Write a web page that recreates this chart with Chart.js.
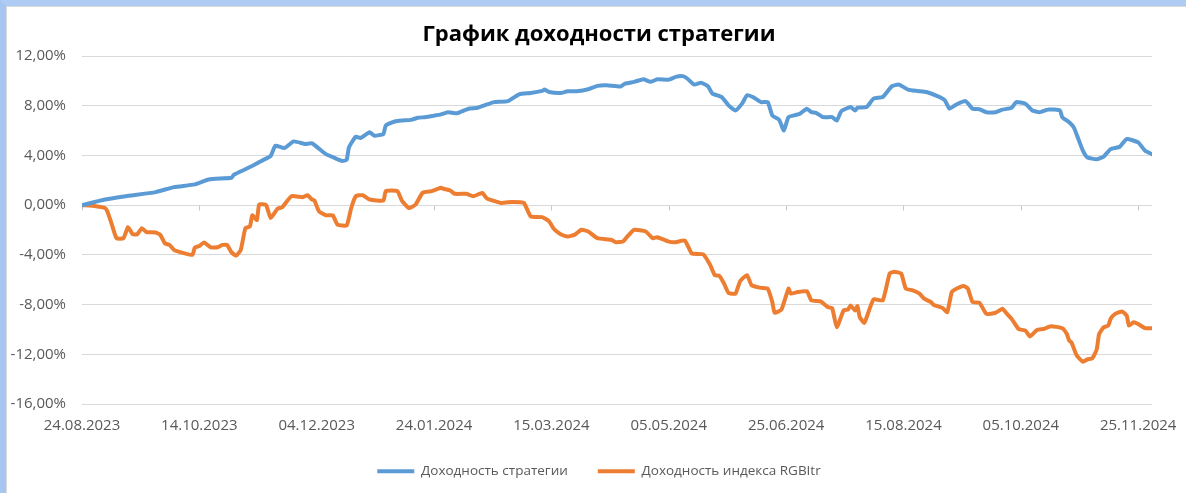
<!DOCTYPE html>
<html>
<head>
<meta charset="utf-8">
<script src="https://cdn.jsdelivr.net/npm/chart.js@4.4.0/dist/chart.umd.min.js"></script>
<style>
    html, body { margin: 0; padding: 0; background: #fff; overflow: hidden; }
    .frame {
        width: 1186px; height: 493px; box-sizing: border-box;
        border-top: 6px solid #aecbf3; border-left: 6px solid #a6c6f1;
    }
    .inner {
        width: 1180px; height: 487px; box-sizing: border-box; overflow: hidden;
        border-top: 1px solid #d9d9d9; border-left: 1px solid #d9d9d9;
    }
    canvas { display: block; }
</style>
</head>
<body>
<div class="frame"><div class="inner">
    <canvas id="yieldChart" width="1184" height="486"></canvas>
</div></div>
<script>
// days counted from 24.08.2023, values in %
var stratDays = [
    0, 10, 19, 32, 40, 49, 55, 65, 66, 71,
    75, 78, 82, 84, 88, 92, 97, 100, 106, 110,
    113, 115, 116, 119, 121, 125, 127, 131, 132, 136,
    139, 143, 146, 149, 153, 156, 159, 163, 168, 172,
    176, 179, 185, 190, 195, 200, 201, 203, 208, 211,
    215, 220, 224, 228, 234, 236, 240, 244, 247, 250,
    255, 258, 261, 263, 266, 269, 272, 274, 278, 281,
    284, 287, 289, 292, 295, 298, 300, 303, 305, 307,
    310, 312, 315, 317, 319, 322, 326, 328, 330, 334,
    336, 337, 341, 344, 348, 352, 355, 359, 363, 367,
    372, 375, 377, 380, 384, 387, 390, 393, 397, 400,
    404, 406, 410, 413, 416, 420, 425, 426, 429, 431,
    433, 435, 437, 441, 444, 447, 451, 454, 459, 462,
    465
];
var stratValues = [
    0, 0.45, 0.72, 1.05, 1.45, 1.67, 2.07, 2.2, 2.45, 2.89,
    3.25, 3.56, 3.97, 4.78, 4.59, 5.13, 4.92, 4.97, 4.1, 3.78,
    3.56, 3.64, 4.64, 5.51, 5.4, 5.86, 5.59, 5.73, 6.4, 6.73,
    6.81, 6.86, 7.03, 7.08, 7.2, 7.3, 7.48, 7.4, 7.76, 7.84,
    8.1, 8.29, 8.37, 8.92, 9.02, 9.19, 9.3, 9.1, 9.02, 9.16,
    9.16, 9.32, 9.6, 9.65, 9.55, 9.78, 9.92, 10.13, 9.92, 10.13,
    10.1, 10.32, 10.38, 10.19, 9.7, 9.84, 9.57, 8.97, 8.7, 8.03,
    7.62, 8.21, 8.84, 8.65, 8.29, 8.29, 7.21, 6.86, 6.0, 7.08,
    7.25, 7.35, 7.76, 7.48, 7.43, 7.08, 7.08, 6.81, 7.56, 7.89,
    7.62, 7.84, 7.89, 8.57, 8.7, 9.57, 9.7, 9.3, 9.19, 9.1,
    8.75, 8.43, 7.76, 8.1, 8.37, 7.76, 7.72, 7.48, 7.48, 7.68,
    7.84, 8.29, 8.16, 7.62, 7.48, 7.7, 7.62, 7.08, 6.67, 6.26,
    5.32, 4.37, 3.83, 3.7, 3.91, 4.51, 4.7, 5.32, 5.05, 4.37,
    4.1
];

var indexDays = [
    0, 6, 10, 11, 13, 15, 18, 20, 22, 24,
    26, 28, 32, 34, 36, 38, 40, 43, 48, 49,
    51, 53, 56, 59, 61, 63, 65, 67, 69, 71,
    73, 74, 76, 77, 80, 82, 85, 87, 91, 96,
    98, 100, 101, 103, 106, 109, 111, 115, 117, 119,
    122, 125, 131, 132, 137, 139, 142, 145, 148, 152,
    156, 157, 160, 162, 167, 170, 174, 176, 182, 187,
    192, 195, 200, 203, 205, 208, 211, 214, 217, 220,
    224, 230, 232, 235, 237, 240, 245, 248, 250, 255,
    258, 262, 265, 270, 273, 275, 277, 279, 281, 284,
    286, 289, 291, 295, 298, 300, 301, 304, 307, 308,
    311, 315, 317, 321, 324, 326, 328, 331, 333, 334,
    336, 337, 338, 340, 341, 344, 348, 351, 353, 356,
    358, 361, 364, 366, 369, 370, 374, 376, 378, 380,
    383, 385, 387, 390, 393, 397, 400, 402, 404, 407,
    410, 412, 415, 418, 421, 426, 428, 429, 430, 432,
    433, 435, 437, 439, 441, 442, 444, 446, 447, 449,
    452, 454, 455, 457, 459, 462, 465
];
var indexValues = [
    0, -0.09, -0.23, -0.5, -1.57, -2.66, -2.66, -1.77, -2.34, -2.34,
    -1.85, -2.17, -2.2, -2.39, -3.07, -3.2, -3.6, -3.8, -4.0, -3.42,
    -3.28, -3.01, -3.39, -3.39, -3.2, -3.2, -3.8, -4.06, -3.6, -1.85,
    -1.71, -0.82, -1.2, 0.05, 0, -1.04, -0.28, -0.17, 0.72, 0.64,
    0.8, 0.45, 0.37, -0.5, -0.82, -0.82, -1.57, -1.63, -0.23, 0.72,
    0.8, 0.45, 0.37, 1.13, 1.13, 0.37, -0.23, 0.05, 0.99, 1.13,
    1.4, 1.32, 1.18, 0.91, 0.91, 0.72, 0.97, 0.54, 0.18, 0.26,
    0.18, -0.9, -0.96, -1.31, -1.9, -2.34, -2.52, -2.39, -1.98, -2.12,
    -2.66, -2.79, -2.98, -2.93, -2.52, -1.98, -2.12, -2.66, -2.58, -2.93,
    -2.98, -2.85, -3.88, -3.96, -4.82, -5.63, -5.69, -6.31, -7.07, -7.12,
    -6.12, -5.63, -6.44, -6.66, -6.72, -7.8, -8.66, -8.39, -6.72, -7.12,
    -6.99, -6.93, -7.66, -7.74, -8.2, -8.28, -9.83, -8.47, -8.39, -8.07,
    -8.47, -8.12, -9.01, -9.48, -9.01, -7.58, -7.66, -5.5, -5.36, -5.5,
    -6.72, -6.85, -7.12, -7.53, -7.8, -8.02, -8.28, -8.61, -6.99, -6.72,
    -6.5, -6.72, -7.8, -7.85, -8.75, -8.66, -8.34, -8.75, -9.15, -9.96,
    -10.1, -10.56, -10.04, -9.96, -9.74, -9.9, -10.37, -10.9, -11.04, -11.99,
    -12.26, -12.6, -12.4, -12.34, -11.59, -10.37, -9.83, -9.69, -9.15, -8.75,
    -8.55, -8.88, -9.69, -9.42, -9.56, -9.9, -9.9
];

var tickDays   = [0, 51, 102, 153, 204, 255, 306, 357, 408, 459];
var tickLabels = ['24.08.2023', '14.10.2023', '04.12.2023', '24.01.2024', '15.03.2024',
                  '05.05.2024', '25.06.2024', '15.08.2024', '05.10.2024', '25.11.2024'];

var seriesNames = ['Доходность стратегии', 'Доходность индекса RGBItr'];

function toPoints(days, values) {
    return days.map(function (d, i) { return { x: d, y: values[i] }; });
}

// small ticks on the zero line, like the Excel category axis
var zeroTicks = {
    id: 'zeroTicks',
    beforeDatasetsDraw: function (chart) {
        var ctx = chart.ctx, x = chart.scales.x, y = chart.scales.y;
        var y0 = Math.round(y.getPixelForValue(0)) + 0.5;
        ctx.save();
        ctx.strokeStyle = '#c8c8c8';
        ctx.lineWidth = 1;
        ctx.beginPath();
        tickDays.forEach(function (d) {
            var px = Math.round(x.getPixelForValue(d)) + 0.5;
            ctx.moveTo(px, y0);
            ctx.lineTo(px, y0 + 5);
        });
        ctx.stroke();
        ctx.restore();
    }
};

Chart.defaults.font.family = '"Open Sans", sans-serif';
Chart.defaults.color = '#595959';

new Chart(document.getElementById('yieldChart').getContext('2d'), {
    type: 'line',
    data: {
        datasets: [{
            label: seriesNames[0],
            data: toPoints(stratDays, stratValues),
            borderColor: '#5b9bd5',
            backgroundColor: '#5b9bd5',
            borderWidth: 4,
            borderCapStyle: 'round',
            borderJoinStyle: 'round',
            pointRadius: 0,
            tension: 0.15
        }, {
            label: seriesNames[1],
            data: toPoints(indexDays, indexValues),
            borderColor: '#ed7d31',
            backgroundColor: '#ed7d31',
            borderWidth: 4,
            borderCapStyle: 'round',
            borderJoinStyle: 'round',
            pointRadius: 0,
            tension: 0.15
        }]
    },
    options: {
        responsive: false,
        animation: false,
        devicePixelRatio: 1,
        layout: { padding: { top: 0, left: 0, right: 0, bottom: 5 } },
        plugins: {
            title: {
                display: true,
                text: 'График доходности стратегии',
                color: '#000',
                font: { size: 22, weight: 'bold' },
                padding: { top: 15, bottom: 7.6 }
            },
            legend: {
                position: 'bottom',
                labels: {
                    usePointStyle: true,
                    pointStyle: 'line',
                    pointStyleWidth: 37,
                    padding: 30,
                    font: { size: 13.5 },
                    color: '#595959'
                }
            },
            tooltip: { enabled: false }
        },
        scales: {
            x: {
                type: 'linear',
                min: 0,
                max: 465,
                afterBuildTicks: function (scale) {
                    scale.ticks = tickDays.map(function (d) { return { value: d }; });
                },
                afterFit: function (scale) { scale.height = 30.5; },
                grid: { display: false, drawTicks: false },
                border: { display: false },
                ticks: {
                    padding: 13,
                    maxRotation: 0,
                    autoSkip: false,
                    font: { size: 15 },
                    callback: function (v) {
                        var i = tickDays.indexOf(v);
                        return i >= 0 ? tickLabels[i] : '';
                    }
                }
            },
            y: {
                min: -16,
                max: 12,
                afterFit: function (scale) { scale.width = 75; },
                grid: { color: '#d9d9d9', drawTicks: false },
                border: { display: false },
                ticks: {
                    stepSize: 4,
                    padding: 16,
                    font: { size: 15 },
                    callback: function (v) {
                        return v.toFixed(2).replace('.', ',') + '%';
                    }
                }
            },
            // empty right-hand box, keeps the plot clear of the frame edge
            y2: {
                position: 'right',
                min: -16,
                max: 12,
                afterFit: function (scale) { scale.width = 39; },
                grid: { display: false, drawTicks: false },
                border: { display: false },
                ticks: { display: false }
            }
        }
    },
    plugins: [zeroTicks]
});
</script>
</body>
</html>
